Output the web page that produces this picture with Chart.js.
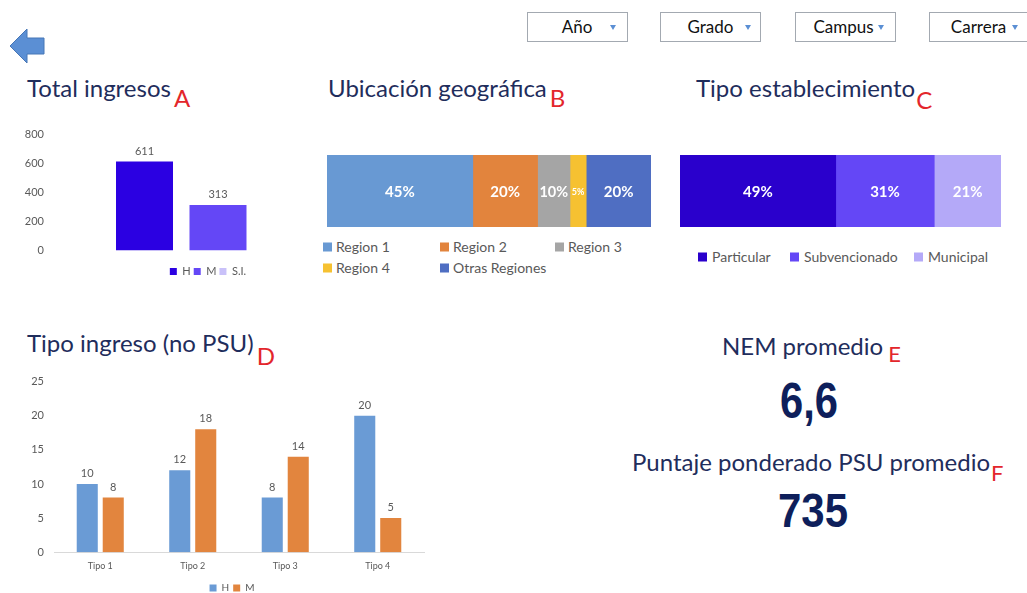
<!DOCTYPE html>
<html lang="es">
<head>
<meta charset="utf-8">
<title>Ingresos</title>
<script src="https://cdn.jsdelivr.net/npm/chart.js@4.4.0/dist/chart.umd.min.js"></script>
<style>
  html, body { margin: 0; padding: 0; background: #fff; }
  body { width: 1027px; height: 593px; overflow: hidden; position: relative; font-family: Lato, "Open Sans", sans-serif; }
  canvas { position: absolute; }
  #deco { position: absolute; left: 0; top: 0; }
</style>
</head>
<body>
<svg id="deco" width="1027" height="593" xmlns="http://www.w3.org/2000/svg"></svg>
<canvas id="totalChart" width="400" height="167" style="left:0;top:120px"></canvas>
<canvas id="regionChart" width="324" height="72" style="left:327px;top:155px"></canvas>
<canvas id="estabChart" width="321" height="72" style="left:680px;top:155px"></canvas>
<canvas id="ingresoChart" width="440" height="238" style="left:0;top:365px"></canvas>
<script>
// Datos del gráfico A: total ingresos por sexo
const totalCats = [''];
const totalH = [611];
const totalM = [313];
const totalSI = [null];
const totalTicks = [0, 200, 400, 600, 800];

// Datos del gráfico B: ubicación geográfica (%)
const regionLabels = ['Region 1', 'Region 2', 'Region 3', 'Region 4', 'Otras Regiones'];
const regionPct = [45, 20, 10, 5, 20];

// Datos del gráfico C: tipo establecimiento (%)
const estabLabels = ['Particular', 'Subvencionado', 'Municipal'];
const estabPct = [49, 31, 21];

// Datos del gráfico D: tipo ingreso (no PSU)
const ingresoCats = ['Tipo 1', 'Tipo 2', 'Tipo 3', 'Tipo 4'];
const ingresoH = [10, 12, 8, 20];
const ingresoM = [8, 18, 14, 5];
const ingresoTicks = [0, 5, 10, 15, 20, 25];

// Indicadores E y F
const nemPromedio = '6,6';
const psuPromedio = '735';

// Filtros
const filtros = ['Año', 'Grado', 'Campus', 'Carrera'];

const GRAY = '#595959';
const NAVY = '#1f2d5c';
const RED = '#e3262b';
const regionColors = ['#6899d3', '#e2843d', '#a5a5a5', '#f6c131', '#4f6ec2'];
const estabColors = ['#2a00cc', '#6447f6', '#b4a9f8'];
const sexColors = ['#2b00e2', '#6447f6', '#c9c1f9'];
const ingresoColors = ['#6a9bd5', '#e2853e'];

Chart.defaults.font.family = 'Lato';
Chart.defaults.color = GRAY;
Chart.defaults.animation = false;

// Etiquetas de valores sobre / dentro de las barras
const barLabels = {
    id: 'barLabels',
    afterDatasetsDraw(chart, args, opts) {
        const ctx = chart.ctx;
        ctx.save();
        chart.data.datasets.forEach((ds, i) => {
            const meta = chart.getDatasetMeta(i);
            meta.data.forEach((bar, j) => {
                const v = ds.data[j];
                if (v === null || v === undefined) return;
                const text = v + (opts.suffix || '');
                if (opts.inside) {
                    let size = opts.size;
                    const w = Math.abs(bar.x - bar.base);
                    ctx.font = `bold ${size}px Lato`;
                    while (size > 6 && ctx.measureText(text).width > w - 3) {
                        size -= 0.5;
                        ctx.font = `bold ${size}px Lato`;
                    }
                    ctx.fillStyle = '#fff';
                    ctx.textAlign = 'center';
                    ctx.textBaseline = 'middle';
                    ctx.fillText(text, (bar.x + bar.base) / 2, bar.y + 1);
                } else {
                    ctx.font = `${opts.size}px Lato`;
                    ctx.fillStyle = GRAY;
                    ctx.textAlign = 'center';
                    ctx.textBaseline = 'bottom';
                    ctx.fillText(text, bar.x, bar.y - opts.offset);
                }
            });
        });
        ctx.restore();
    }
};

// Desplaza la leyenda horizontalmente sin tocar el área del gráfico
const legendShift = {
    id: 'legendShift',
    afterLayout(chart, args, opts) {
        if (chart.legend && opts.dx) {
            chart.legend.left += opts.dx;
            chart.legend.right += opts.dx;
        }
    }
};

// Espaciador invisible (título vacío de eje)
function spacer(px) {
    return { display: true, text: '', font: { size: px / 1.2 }, padding: 0 };
}

// A: Total ingresos
new Chart(document.getElementById('totalChart'), {
    type: 'bar',
    data: {
        labels: totalCats,
        datasets: [
            { label: 'H', data: totalH, backgroundColor: sexColors[0] },
            { label: 'M', data: totalM, backgroundColor: sexColors[1] },
            { label: 'S.I.', data: totalSI, backgroundColor: sexColors[2] }
        ]
    },
    options: {
        responsive: false,
        layout: { padding: { left: 0, right: 12, top: 14, bottom: 0 } },
        datasets: { bar: { categoryPercentage: 0.6485, barPercentage: 0.7755 } },
        plugins: {
            legend: {
                position: 'bottom',
                labels: { boxWidth: 7, boxHeight: 7, padding: 3, font: { size: 11 }, color: GRAY }
            },
            legendShift: { dx: 14 },
            tooltip: { enabled: false },
            barLabels: { size: 11, offset: 5 }
        },
        scales: {
            x: {
                ticks: { display: false },
                grid: { display: false, drawTicks: false },
                border: { display: false },
                title: spacer(12.5)
            },
            y: {
                min: totalTicks[0],
                max: totalTicks[totalTicks.length - 1],
                afterFit: (scale) => { scale.width = 48; },
                ticks: { stepSize: totalTicks[1] - totalTicks[0], padding: 4, font: { size: 11 }, color: GRAY },
                grid: { display: false, drawTicks: false },
                border: { display: false }
            }
        }
    },
    plugins: [barLabels, legendShift]
});

// B y C: barras 100% apiladas horizontales
function stackedBar(id, labels, values, colors) {
    return new Chart(document.getElementById(id), {
        type: 'bar',
        data: {
            labels: [''],
            datasets: labels.map((l, i) => ({
                label: l, data: [values[i]], backgroundColor: colors[i], borderWidth: 0
            }))
        },
        options: {
            responsive: false,
            indexAxis: 'y',
            layout: { padding: 0 },
            datasets: { bar: { categoryPercentage: 1, barPercentage: 1 } },
            plugins: {
                legend: { display: false },
                tooltip: { enabled: false },
                barLabels: { inside: true, size: 15, suffix: '%' }
            },
            scales: {
                x: { display: false, stacked: true, min: 0, max: values.reduce((a, b) => a + b, 0) },
                y: { display: false, stacked: true }
            }
        },
        plugins: [barLabels]
    });
}
stackedBar('regionChart', regionLabels, regionPct, regionColors);
stackedBar('estabChart', estabLabels, estabPct, estabColors);

// D: Tipo ingreso (no PSU)
new Chart(document.getElementById('ingresoChart'), {
    type: 'bar',
    data: {
        labels: ingresoCats,
        datasets: [
            { label: 'H', data: ingresoH, backgroundColor: ingresoColors[0] },
            { label: 'M', data: ingresoM, backgroundColor: ingresoColors[1] }
        ]
    },
    options: {
        responsive: false,
        layout: { padding: { left: 0, right: 16, top: 13, bottom: 0 } },
        datasets: { bar: { categoryPercentage: 0.562, barPercentage: 0.81 } },
        plugins: {
            legend: {
                position: 'bottom',
                labels: { boxWidth: 7, boxHeight: 7, padding: 4, font: { size: 10 }, color: GRAY }
            },
            legendShift: { dx: 20 },
            tooltip: { enabled: false },
            barLabels: { size: 11, offset: 5 }
        },
        scales: {
            x: {
                ticks: { padding: 8, font: { size: 9 }, color: GRAY },
                grid: { display: false, drawTicks: false },
                border: { display: true, color: '#d9d9d9' }
            },
            y: {
                min: ingresoTicks[0],
                max: ingresoTicks[ingresoTicks.length - 1],
                afterFit: (scale) => { scale.width = 54; },
                ticks: { stepSize: ingresoTicks[1] - ingresoTicks[0], padding: 10, font: { size: 11 }, color: GRAY },
                grid: { display: false, drawTicks: false },
                border: { display: false }
            }
        }
    },
    plugins: [barLabels, legendShift]
});

// Decoración: títulos, filtros, flecha, leyendas B y C, indicadores
const svg = document.getElementById('deco');
const NS = 'http://www.w3.org/2000/svg';
function el(tag, attrs, text) {
    const e = document.createElementNS(NS, tag);
    for (const k in attrs) e.setAttribute(k, attrs[k]);
    if (text !== undefined) e.textContent = text;
    svg.appendChild(e);
    return e;
}
function txt(x, y, s, size, color, extra) {
    return el('text', Object.assign({ x, y, 'font-family': 'Lato', 'font-size': size, fill: color }, extra || {}), s);
}

// flecha volver
el('polygon', { points: '10,46 27,29 27,38 44,38 44,54 27,54 27,63', fill: '#5b8fd4', stroke: '#4676b6', 'stroke-width': 1 });

// filtros
const ddBoxes = [[527, 577, 613], [660, 710.5, 748], [795, 843.5, 881], [929, 978.5, 1015]];
filtros.forEach((f, i) => {
    const [x, cx, ax] = ddBoxes[i];
    el('rect', { x: x + 0.5, y: 12.5, width: 100, height: 29, fill: '#fff', stroke: '#a3a9b1', 'stroke-width': 1 });
    txt(cx, 33, f, 17, '#111', { 'text-anchor': 'middle' });
    el('polygon', { points: `${ax - 3},25 ${ax + 3},25 ${ax},30`, fill: '#5b8fd4' });
});

// títulos con letra roja a continuación
const titles = [
    ['Total ingresos', 27, 97, 'A', 10, 3],
    ['Ubicación geográfica', 328, 97, 'B', 10, 3],
    ['Tipo establecimiento', 696, 97, 'C', 12, 1],
    ['Tipo ingreso (no PSU)', 27, 352, 'D', 13, 3],
    ['NEM promedio', 722, 355, 'E', 7, 5],
    ['Puntaje ponderado PSU promedio', 632, 471, 'F', 10, 1]
];
titles.forEach(([t, x, y, k, dy, gap]) => {
    const node = txt(x, y, t, 24, NAVY);
    const end = x + node.getComputedTextLength();
    txt(end + gap, y + dy, k, k === 'E' || k === 'F' ? 22 : 24, RED);
});

// leyenda B en columnas
const legBX = [323, 440, 555, 323, 440];
const legBY = [247, 247, 247, 268, 268];
regionLabels.forEach((l, i) => {
    el('rect', { x: legBX[i], y: legBY[i] - 4.5, width: 9, height: 9, fill: regionColors[i] });
    txt(legBX[i] + 13, legBY[i] + 5, l, 14, GRAY);
});

// leyenda C en una fila
const legCX = [698, 790, 914];
estabLabels.forEach((l, i) => {
    el('rect', { x: legCX[i], y: 257 - 4.5, width: 9, height: 9, fill: estabColors[i] });
    txt(legCX[i] + 14, 262, l, 14, GRAY);
});

// indicadores
const big = { 'font-family': 'Liberation Sans', 'font-weight': 'bold', lengthAdjust: 'spacingAndGlyphs' };
txt(780, 418, nemPromedio, 50, '#0e1f5b', Object.assign({ textLength: 58 }, big));
txt(778, 527, psuPromedio, 48, '#0e1f5b', Object.assign({ textLength: 70 }, big));
</script>
</body>
</html>
